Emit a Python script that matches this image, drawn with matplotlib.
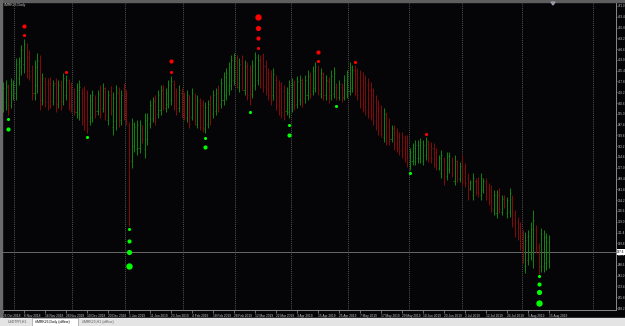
import matplotlib.pyplot as plt
import numpy as np
from matplotlib.patches import Rectangle, Polygon

# daily OHLC, 26 Oct 2018 .. 15 Aug 2019
opens = [400.0, 403.0, 414.0, 401.0, 408.0, 410.0, 420.0, 428.0, 430.0, 441.0,
         436.0, 425.0, 410.0, 415.0, 432.0, 405.0, 418.0, 416.0, 417.0, 404.0,
         417.0, 402.0, 415.0, 404.0, 408.0, 417.0, 414.0, 410.0, 396.0, 395.0,
         410.0, 410.0, 407.0, 390.0, 393.0, 406.0, 397.0, 412.0, 399.0, 411.0,
         391.0, 411.0, 386.0, 390.0, 410.0, 391.0, 413.0, 395.0, 387.0, 362.0,
         372.0, 370.0, 371.0, 385.0, 370.0, 377.0, 388.0, 392.0, 405.0, 395.0,
         398.0, 412.0, 399.0, 402.0, 405.0, 416.0, 410.0, 399.0, 410.0, 407.0,
         392.0, 405.0, 393.0, 406.0, 388.0, 403.0, 401.0, 384.0, 388.0, 405.0,
         395.0, 397.0, 412.0, 402.0, 405.0, 408.0, 412.0, 415.0, 419.0, 433.0,
         414.0, 432.0, 412.0, 427.0, 425.0, 409.0, 415.0, 419.0, 433.0, 434.0,
         429.0, 424.0, 422.0, 408.0, 419.0, 415.0, 413.0, 411.0, 397.0, 396.0,
         400.0, 415.0, 402.0, 405.0, 417.0, 406.0, 408.0, 421.0, 411.0, 413.0,
         426.0, 409.0, 421.0, 408.0, 418.0, 408.0, 409.0, 414.0, 407.0, 414.0,
         407.0, 409.0, 411.0, 413.0, 426.0, 423.0, 421.0, 419.0, 417.0, 415.0,
         412.0, 408.0, 404.0, 400.0, 397.0, 379.0, 392.0, 389.0, 377.0, 384.0,
         382.0, 379.0, 379.0, 376.0, 375.0, 358.0, 362.0, 362.0, 364.0, 364.0,
         362.0, 366.0, 374.0, 372.0, 371.0, 368.0, 357.0, 353.0, 362.0, 351.0,
         356.0, 362.0, 348.0, 360.0, 349.0, 362.0, 357.0, 350.0, 342.0, 338.0,
         348.0, 348.0, 338.0, 341.0, 347.0, 343.0, 341.0, 327.0, 325.0, 340.0,
         326.0, 336.0, 325.0, 326.0, 335.0, 324.0, 319.0, 315.0, 309.0, 288.0,
         292.0, 296.0, 291.0, 313.0, 301.0, 288.0, 288.0, 290.0, 291.0]
highs = [417.4, 418.8, 416.0, 420.2, 418.8, 434.3, 435.0, 443.5, 447.7, 444.9,
         440.0, 429.4, 432.9, 437.9, 436.4, 423.8, 420.9, 420.2, 420.9, 418.8,
         420.2, 418.8, 418.8, 423.8, 422.4, 419.5, 417.4, 413.2, 416.7, 418.8,
         413.2, 414.6, 411.8, 409.0, 411.8, 408.3, 411.8, 415.3, 416.7, 413.9,
         411.8, 414.6, 410.4, 415.3, 413.9, 411.8, 416.7, 411.8, 389.2, 392.1,
         389.2, 390.6, 390.6, 387.1, 395.6, 395.6, 404.7, 406.9, 408.3, 411.8,
         415.3, 415.3, 413.2, 418.8, 421.6, 418.8, 413.2, 415.3, 413.2, 410.4,
         411.8, 408.3, 413.2, 409.7, 408.3, 406.1, 404.7, 403.3, 404.7, 408.3,
         411.8, 413.2, 415.3, 420.2, 424.5, 427.3, 431.5, 436.4, 437.9, 436.4,
         434.3, 436.4, 432.9, 431.5, 429.4, 432.9, 438.6, 437.2, 436.4, 437.9,
         432.9, 427.3, 425.9, 427.3, 422.4, 418.8, 417.4, 415.3, 413.9, 418.8,
         420.2, 418.8, 421.6, 422.4, 420.2, 422.4, 425.9, 424.5, 428.7, 431.5,
         429.4, 427.3, 424.5, 422.4, 420.9, 425.9, 428.0, 416.7, 418.8, 416.7,
         422.4, 425.9, 431.5, 429.4, 429.4, 427.3, 425.9, 424.5, 422.4, 420.2,
         417.4, 413.2, 408.3, 404.7, 401.2, 399.1, 396.3, 392.1, 387.1, 387.1,
         385.0, 382.2, 382.2, 380.1, 380.1, 370.9, 374.4, 376.6, 376.6, 378.0,
         376.6, 378.7, 376.6, 375.1, 374.4, 370.9, 366.0, 369.5, 364.6, 368.1,
         368.1, 364.6, 366.0, 362.5, 361.1, 366.0, 360.4, 353.3, 348.4, 353.3,
         349.8, 350.5, 353.3, 349.8, 349.8, 346.2, 344.8, 341.3, 341.3, 342.7,
         337.8, 337.8, 336.4, 342.7, 337.8, 327.2, 322.3, 318.8, 313.1, 311.7,
         313.1, 318.8, 327.2, 316.7, 304.0, 314.6, 313.1, 311.0, 309.6]
lows = [396.3, 397.7, 394.2, 399.1, 404.7, 404.7, 415.3, 422.4, 423.8, 420.2,
        418.8, 404.7, 404.7, 409.7, 397.7, 401.2, 399.8, 397.7, 399.1, 401.2,
        396.3, 399.1, 397.7, 401.2, 404.7, 397.7, 396.3, 394.2, 392.1, 390.6,
        387.1, 383.6, 381.5, 387.1, 389.2, 392.1, 394.2, 392.1, 396.3, 390.6,
        387.1, 394.2, 380.1, 383.6, 385.7, 387.1, 390.6, 387.1, 316.0, 356.8,
        368.1, 366.0, 367.4, 374.4, 363.9, 373.0, 385.0, 389.2, 387.1, 392.1,
        394.2, 397.7, 396.3, 399.1, 401.2, 397.7, 394.2, 396.3, 392.1, 390.6,
        389.2, 385.0, 390.6, 387.1, 385.0, 383.6, 382.2, 381.5, 385.0, 387.1,
        392.1, 394.2, 396.3, 399.1, 401.2, 404.7, 408.3, 411.8, 415.3, 413.2,
        410.4, 411.8, 408.3, 404.7, 401.2, 406.1, 411.8, 415.3, 413.2, 410.4,
        408.3, 404.7, 401.2, 404.7, 397.7, 394.2, 392.1, 390.6, 394.2, 392.1,
        396.3, 397.7, 399.1, 401.2, 399.8, 402.6, 404.7, 406.1, 408.3, 410.4,
        408.3, 406.1, 404.7, 404.7, 402.6, 404.7, 406.1, 404.7, 404.7, 403.3,
        404.7, 406.1, 408.3, 410.4, 408.3, 404.7, 399.1, 396.3, 394.2, 392.1,
        390.6, 387.1, 383.6, 380.1, 378.7, 375.1, 373.0, 373.0, 375.1, 369.5,
        368.1, 366.0, 363.9, 361.1, 357.5, 355.4, 358.9, 358.9, 360.4, 360.4,
        358.9, 362.5, 361.1, 360.4, 357.5, 355.4, 355.4, 349.8, 344.8, 348.4,
        353.3, 350.5, 344.8, 346.9, 346.9, 344.8, 343.4, 334.3, 341.3, 334.3,
        337.8, 336.4, 334.3, 339.2, 334.3, 330.8, 325.8, 323.7, 321.6, 325.1,
        323.7, 328.6, 321.6, 322.3, 315.3, 308.2, 306.1, 299.0, 289.9, 282.8,
        288.5, 292.0, 286.4, 296.9, 282.1, 283.6, 283.6, 285.0, 286.4]
closes = [413.0, 414.5, 399.0, 416.0, 415.0, 430.0, 432.0, 440.0, 444.0, 425.0,
          422.0, 408.0, 428.0, 433.0, 402.0, 420.0, 403.0, 401.0, 402.0, 415.0,
          399.0, 415.0, 400.0, 420.0, 419.0, 400.0, 399.0, 397.0, 412.0, 414.0,
          390.0, 387.0, 385.0, 405.0, 408.0, 395.0, 409.0, 395.0, 413.0, 394.0,
          408.0, 397.0, 406.0, 411.0, 389.0, 408.0, 393.0, 389.0, 362.0, 388.0,
          386.0, 387.0, 387.0, 377.0, 391.0, 392.0, 401.0, 404.0, 390.0, 408.0,
          412.0, 400.0, 410.0, 415.0, 418.0, 401.0, 397.0, 412.0, 395.0, 393.0,
          408.0, 388.0, 410.0, 390.0, 405.0, 386.0, 385.0, 400.0, 402.0, 390.0,
          408.0, 410.0, 399.0, 417.0, 421.0, 424.0, 428.0, 433.0, 434.0, 417.0,
          430.0, 415.0, 429.0, 408.0, 405.0, 429.0, 435.0, 433.0, 417.0, 414.0,
          412.0, 408.0, 405.0, 423.0, 401.0, 398.0, 396.0, 394.0, 410.0, 415.0,
          416.0, 401.0, 418.0, 419.0, 403.0, 419.0, 422.0, 409.0, 425.0, 428.0,
          412.0, 424.0, 408.0, 419.0, 406.0, 422.0, 424.0, 407.0, 416.0, 406.0,
          419.0, 422.0, 428.0, 426.0, 411.0, 408.0, 403.0, 400.0, 398.0, 396.0,
          394.0, 390.0, 387.0, 383.0, 381.0, 395.0, 376.0, 376.0, 385.0, 372.0,
          371.0, 369.0, 367.0, 364.0, 361.0, 368.0, 371.0, 373.0, 373.0, 375.0,
          373.0, 376.0, 364.0, 363.0, 360.0, 358.0, 364.0, 366.0, 348.0, 365.0,
          365.0, 353.0, 362.0, 350.0, 358.0, 348.0, 346.0, 337.0, 347.0, 350.0,
          340.0, 339.0, 350.0, 348.0, 337.0, 333.0, 329.0, 338.0, 338.0, 328.0,
          335.0, 330.0, 334.0, 339.0, 318.0, 311.0, 309.0, 302.0, 293.0, 306.0,
          309.0, 314.0, 320.0, 300.0, 285.0, 310.0, 308.0, 305.0, 297.6]

# indicator dots (bar index -> price levels)
sell_bars = [8, 24, 64, 97, 120, 134, 161]
sell_levels = [[450.5, 456.9], [424.5], [424.5, 432.2],
               [441.4, 448.4, 455.5, 463.2], [432.2, 438.6], [431.5], [380.8]]
buy_bars = [2, 32, 48, 77, 94, 109, 127, 155, 204]
buy_levels = [[391.4, 384.3], [378.7], [313.9, 305.4, 297.6, 287.8],
              [378.0, 371.6], [396.3], [387.1, 380.1], [400.5], [353.3],
              [280.7, 275.1, 269.5, 261.7]]

# month separators (bar positions)
separators = [4.2, 26.3, 46.5, 68.6, 88.4, 109.7, 131.4, 154.7, 174.9, 197.7, 224.8]

date_labels = ["26 Oct 2018", "6 Nov 2018", "16 Nov 2018", "28 Nov 2018", "10 Dec 2018",
               "20 Dec 2018", "1 Jan 2019", "11 Jan 2019", "23 Jan 2019", "4 Feb 2019",
               "18 Feb 2019", "28 Feb 2019", "12 Mar 2019", "22 Mar 2019", "3 Apr 2019",
               "15 Apr 2019", "25 Apr 2019", "7 May 2019", "17 May 2019", "29 May 2019",
               "10 Jun 2019", "20 Jun 2019", "2 Jul 2019", "12 Jul 2019", "24 Jul 2019",
               "5 Aug 2019", "15 Aug 2019"]
price_ticks = [258.2, 265.8, 273.4, 281.0, 288.6, 296.2, 303.8, 311.4, 319.0, 326.6,
               334.2, 341.8, 349.4, 357.0, 364.6, 372.2, 379.8, 387.4, 395.0, 402.6,
               410.2, 417.8, 425.4, 433.0, 440.6, 448.2, 455.8, 463.4, 471.0]
last_price = 297.6

plt.rcParams['font.family'] = 'Liberation Sans'

W, H = 625, 326
fig = plt.figure(figsize=(W / 100, H / 100), dpi=100, facecolor='#050507')
ax = fig.add_axes([2 / W, 16 / H, 614 / W, 308 / H])
ax.set_facecolor('#050507')

x = np.arange(len(opens))
o = np.array(opens); c = np.array(closes)
cols = np.where(c >= o, '#128412', '#820b0b')

for s in separators:
    ax.axvline(s, color='#585858', lw=0.7, ls=(0, (1, 1.2)))
ax.axhline(last_price, color='#6a6a6a', lw=0.7)

ax.vlines(x, lows, highs, colors=cols, lw=0.7)
ax.hlines(opens, x - 0.4, x, colors=cols, lw=0.5)
ax.hlines(closes, x, x + 0.4, colors=cols, lw=0.5)

sizes = [5, 9, 14, 21]
for b, lv in zip(sell_bars, sell_levels):
    for k, p in enumerate(lv):
        ax.scatter(b, p, s=sizes[k], color='#ff0000', lw=0, zorder=5)
for b, lv in zip(buy_bars, buy_levels):
    for k, p in enumerate(lv):
        ax.scatter(b, p, s=sizes[k], color='#00ff00', lw=0, zorder=5)

ax.set_xlim(-0.38, 233.5)
ax.set_ylim(256.8, 473.8)

ax.set_xticks(np.arange(0, len(opens), 8))
ax.set_xticklabels(date_labels)
for t in ax.get_xticklabels():
    t.set_ha('left')
ax.tick_params(axis='x', colors='#9a9a9a', labelcolor='#c8c8c8', labelsize=2.3,
               length=2, width=0.5, pad=0.8)
ax.yaxis.tick_right()
ax.set_yticks(price_ticks)
ax.set_yticklabels(['%.1f' % p for p in price_ticks])
ax.tick_params(axis='y', colors='#9a9a9a', labelcolor='#c8c8c8', labelsize=2.2,
               length=1, width=0.5, pad=0.3)
for side in ['top', 'left']:
    ax.spines[side].set_visible(False)
for side in ['right', 'bottom']:
    ax.spines[side].set_color('#8a8a8a')
    ax.spines[side].set_linewidth(0.7)

ax.text(1.002, last_price, '%.1f' % last_price, transform=ax.get_yaxis_transform(),
        fontsize=2.2, color='black', va='center', ha='left', clip_on=False,
        bbox=dict(boxstyle='square,pad=0.2', fc='white', ec='none'))

# window frame and tabs
fig.add_artist(Rectangle((0, 1 - 2 / H), 1, 2 / H, transform=fig.transFigure, color='#5e5e5e'))
fig.add_artist(Rectangle((0, 0), 2 / W, 1, transform=fig.transFigure, color='#6a6a6a'))
fig.add_artist(Polygon([[551 / W, 1 - 2 / H], [555 / W, 1 - 2 / H], [553 / W, 1 - 5 / H]],
                       transform=fig.transFigure, color='#9a9aaa'))
fig.text(4 / W, 1 - 5 / H, '#MRK26,Daily', fontsize=2.5, color='#c8c8c8', va='center')
fig.add_artist(Rectangle((0, 0), 1, 8 / H, transform=fig.transFigure, color='#e4e4e4'))
fig.add_artist(Rectangle((32 / W, 0), 46 / W, 8 / H, transform=fig.transFigure,
                         fc='white', ec='#8a8a8a', lw=0.4))
fig.text(8 / W, 4 / H, 'USDTRY,H1', fontsize=2.5, color='#555555', va='center')
fig.text(35 / W, 4 / H, '#MRK26,Daily (offline)', fontsize=2.5, color='black', va='center')
fig.text(82 / W, 4 / H, '#MRK23,H1 (offline)', fontsize=2.5, color='#555555', va='center')

fig.savefig('out.png', dpi=100, facecolor=fig.get_facecolor())
